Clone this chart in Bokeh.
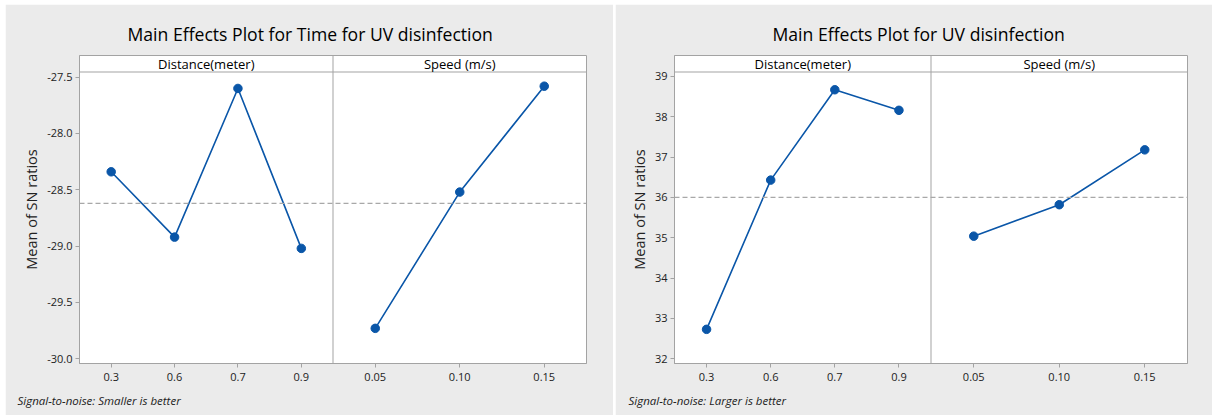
from bokeh.plotting import figure
from bokeh.models import Range1d, Span, Label, Title, FixedTicker, SingleIntervalTicker, NumeralTickFormatter, Spacer
from bokeh.layouts import row, column
from bokeh.embed import file_html
from bokeh.resources import INLINE

# ---------------- data ----------------
factor_names = ["Distance(meter)", "Speed (m/s)"]
distance_levels = ["0.3", "0.6", "0.7", "0.9"]
speed_levels = ["0.05", "0.10", "0.15"]

time_distance_sn = [-28.34, -28.92, -27.60, -29.02]
time_speed_sn = [-29.73, -28.52, -27.58]
time_grand_mean = -28.62

uv_distance_sn = [32.73, 36.43, 38.67, 38.16]
uv_speed_sn = [35.04, 35.82, 37.18]
uv_grand_mean = 36.00

left_title = "Main Effects Plot for Time for UV disinfection"
right_title = "Main Effects Plot for UV disinfection"
left_footer = "Signal-to-noise: Smaller is better"
right_footer = "Signal-to-noise: Larger is better"
y_label = "Mean of SN ratios"

# ---------------- style ----------------
FONT = "Open Sans"
BG = "#ebebeb"
FRAME = "#a3a3a3"
BLUE = "#0a56a8"
TEXT = "#222222"


def make_panel(title, footer, d_vals, s_vals, grand_mean, y_lo, y_hi, interval, fmt,
               width, min_left, min_right, title_offset, footer_offset):
    strip_px, plot_px = 16.5, 291.5
    y_end = y_hi + (y_hi - y_lo) * strip_px / plot_px
    p = figure(width=width, height=411, x_range=Range1d(0, 8), y_range=Range1d(y_lo, y_end),
               output_backend="svg", toolbar_location=None,
               min_border_left=min_left, min_border_right=min_right,
               min_border_top=51, min_border_bottom=52)
    p.background_fill_color = "white"
    p.border_fill_color = BG
    p.outline_line_color = FRAME
    p.outline_line_width = 1
    p.xgrid.visible = False
    p.ygrid.visible = False

    nd, ns = len(distance_levels), len(speed_levels)
    xd = [(i + 0.5) * 4 / nd for i in range(nd)]
    xs = [4 + (j + 0.5) * 4 / ns for j in range(ns)]

    p.xaxis.ticker = FixedTicker(ticks=xd + xs)
    p.xaxis.major_label_overrides = dict(zip(xd + xs, distance_levels + speed_levels))
    p.yaxis.ticker = SingleIntervalTicker(interval=interval)
    p.yaxis.formatter = NumeralTickFormatter(format=fmt)
    p.yaxis.axis_label = y_label

    for ax in (p.xaxis[0], p.yaxis[0]):
        ax.axis_line_color = FRAME
        ax.major_tick_line_color = FRAME
        ax.major_tick_out = 4
        ax.major_tick_in = 0
        ax.minor_tick_line_color = None
        ax.major_label_text_font = FONT
        ax.major_label_text_font_size = "11px"
        ax.major_label_text_color = TEXT
        ax.major_label_standoff = 3
    p.xaxis.major_label_standoff = 5
    p.yaxis.axis_label_text_font = FONT
    p.yaxis.axis_label_text_font_size = "14.5px"
    p.yaxis.axis_label_text_font_style = "normal"
    p.yaxis.axis_label_text_color = TEXT
    p.yaxis.axis_label_standoff = 3

    # strip header line and panel divider
    p.add_layout(Span(location=y_hi, dimension="width", line_color=FRAME, line_width=1))
    p.add_layout(Span(location=4, dimension="height", line_color=FRAME, line_width=1))
    for xc, name in zip((2, 6), factor_names):
        p.add_layout(Label(x=xc, y=(y_hi + y_end) / 2, text=name, text_align="center",
                           text_baseline="middle", text_font=FONT,
                           text_font_size="13px", text_color="black"))

    # grand mean
    p.add_layout(Span(location=grand_mean, dimension="width", line_color="#a8a8a8",
                      line_width=1.3, line_dash="5 3"))

    for xx, yy in ((xd, d_vals), (xs, s_vals)):
        p.line(xx, yy, line_color=BLUE, line_width=1.6)
        p.scatter(xx, yy, size=8.5, fill_color=BLUE, line_color=BLUE)

    t = Title(text=title, align="left", offset=title_offset, text_font=FONT,
              text_font_size="17.6px", text_font_style="normal", text_color="black", standoff=20)
    p.add_layout(t, "above")
    f = Title(text=footer, align="left", offset=footer_offset, text_font=FONT,
              text_font_size="11.5px", text_font_style="italic", text_color=TEXT, standoff=14)
    p.add_layout(f, "below")
    return p


left = make_panel(left_title, left_footer, time_distance_sn, time_speed_sn, time_grand_mean,
                  -30.042, -27.454, 0.5, "0.0", 608, 74, 27, 48, -62)
right = make_panel(right_title, right_footer, uv_distance_sn, uv_speed_sn, uv_grand_mean,
                   31.883, 39.11, 1, "0", 597, 59, 25, 98, -46)

layout = column(Spacer(height=4),
                row(Spacer(width=5), left, Spacer(width=2), right),
                spacing=0)
open("out.html", "w").write(file_html(layout, INLINE))
